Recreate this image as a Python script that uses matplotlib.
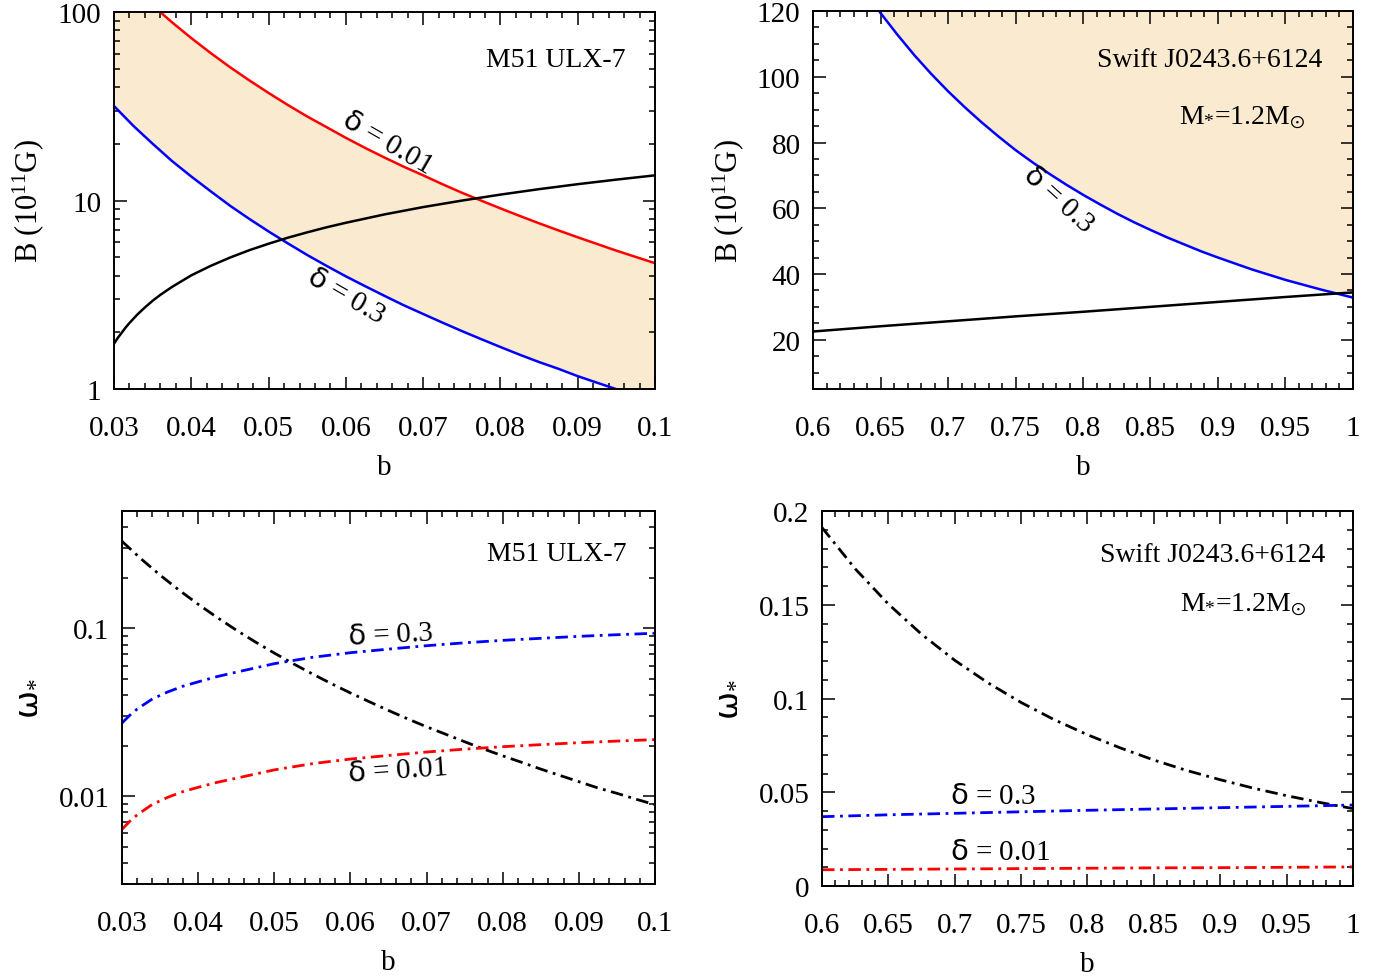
import numpy as np
import matplotlib
matplotlib.use('Agg')
import matplotlib.pyplot as plt
from matplotlib.ticker import MultipleLocator, FuncFormatter, LogLocator

plt.rcParams['font.family'] = ['Liberation Serif', 'DejaVu Serif']
plt.rcParams['mathtext.fontset'] = 'custom'
plt.rcParams['mathtext.rm'] = 'Liberation Serif'
plt.rcParams['mathtext.it'] = 'Liberation Serif:italic'
plt.rcParams['mathtext.bf'] = 'Liberation Serif:bold'
plt.rcParams['mathtext.sf'] = 'DejaVu Sans'
plt.rcParams['mathtext.fallback'] = 'stix'
plt.rcParams['font.size'] = 20

# ---- M51 ULX-7, B vs b (top left) ----
b_ulx = [0.0300, 0.0305, 0.0310, 0.0315, 0.0320, 0.0330, 0.0340, 0.0350, 0.0360,
         0.0375, 0.0400, 0.0425, 0.0450, 0.0475, 0.0500, 0.0525, 0.0550, 0.0575,
         0.060, 0.065, 0.070, 0.075, 0.080, 0.085, 0.090, 0.095, 0.100]
B_ulx_black = [1.74, 1.87, 1.99, 2.12, 2.24, 2.48, 2.71, 2.94, 3.16,
               3.48, 4.01, 4.50, 4.98, 5.45, 5.90, 6.35, 6.78, 7.21,
               7.62, 8.44, 9.23, 9.99, 10.75, 11.49, 12.21, 12.91, 13.6]
b_ulx_d = [0.0300, 0.0325, 0.0350, 0.0375, 0.0400, 0.0425, 0.0450, 0.0475, 0.0500,
           0.0525, 0.0550, 0.0575, 0.0600, 0.0625, 0.0650, 0.0675, 0.0700, 0.0725,
           0.0750, 0.0775, 0.0800, 0.0825, 0.0850, 0.0875, 0.0900, 0.0925, 0.0950,
           0.0975, 0.1000]
B_ulx_d001 = [172.2, 135.5, 108.4, 88.2, 72.7, 60.6, 51.0, 43.4, 37.2,
              32.1, 27.9, 24.5, 21.5, 19.0, 16.9, 15.1, 13.6, 12.2,
              11.0, 9.99, 9.08, 8.28, 7.57, 6.94, 6.38, 5.88, 5.42,
              5.02, 4.65]
B_ulx_d03 = [31.7, 24.9, 20.0, 16.2, 13.4, 11.2, 9.39, 7.99, 6.85,
             5.92, 5.14, 4.50, 3.96, 3.51, 3.12, 2.78, 2.50, 2.25,
             2.03, 1.84, 1.67, 1.52, 1.39, 1.28, 1.17, 1.08, 0.998,
             0.924, 0.856]

# ---- Swift J0243.6+6124, B vs b (top right) ----
b_sw = [0.6000, 0.6125, 0.6250, 0.6375, 0.6500, 0.6625, 0.6750, 0.6875, 0.7000,
        0.7125, 0.7250, 0.7375, 0.7500, 0.7625, 0.7750, 0.7875, 0.8000, 0.8125,
        0.8250, 0.8375, 0.8500, 0.8625, 0.8750, 0.8875, 0.9000, 0.9125, 0.9250,
        0.9375, 0.9500, 0.9625, 0.9750, 0.9875, 1.0000]
B_sw_d03 = [151.9, 142.7, 134.4, 126.6, 119.4, 112.8, 106.6, 100.9, 95.6,
            90.7, 86.1, 81.8, 77.7, 74.0, 70.5, 67.2, 64.1, 61.2,
            58.4, 55.8, 53.4, 51.1, 49.0, 46.9, 45.0, 43.2, 41.4,
            39.8, 38.2, 36.8, 35.4, 34.1, 32.8]
b_sw_line = [0.60, 0.65, 0.70, 0.75, 0.80, 0.85, 0.90, 0.95, 1.00]
B_sw_black = [22.5, 24.1, 25.6, 27.1, 28.5, 30.0, 31.5, 33.0, 34.4]

# ---- M51 ULX-7, omega vs b (bottom left) ----
b_w_ulx = [0.030, 0.031, 0.032, 0.034, 0.036, 0.038, 0.040, 0.0425, 0.045, 0.050, 0.055,
           0.060, 0.065, 0.070, 0.075, 0.080, 0.085, 0.090, 0.095, 0.100]
w_ulx_d03 = [0.0273, 0.0303, 0.0331, 0.0380, 0.0418, 0.0452, 0.0480, 0.0516, 0.0548, 0.0616, 0.0672,
             0.0716, 0.0752, 0.0788, 0.0820, 0.0848, 0.0872, 0.0896, 0.0916, 0.0935]
w_ulx_d001 = [0.00635, 0.00708, 0.00775, 0.00895, 0.00985, 0.01065, 0.01130, 0.01210, 0.01280, 0.01435, 0.01563,
              0.01665, 0.01749, 0.01833, 0.01907, 0.01972, 0.02028, 0.02084, 0.02130, 0.02174]
b_w_ulx_k = [0.0300, 0.0325, 0.0350, 0.0375, 0.0400, 0.0425, 0.0450, 0.0475, 0.0500,
             0.0525, 0.0550, 0.0575, 0.0600, 0.0625, 0.0650, 0.0675, 0.0700, 0.0725,
             0.0750, 0.0775, 0.0800, 0.0825, 0.0850, 0.0875, 0.0900, 0.0925, 0.0950,
             0.0975, 0.1000]
w_ulx_black = [0.3297, 0.2593, 0.2075, 0.1687, 0.1391, 0.1160, 0.0976, 0.0830, 0.0712,
               0.0615, 0.0535, 0.0468, 0.0412, 0.0365, 0.0324, 0.0289, 0.0259, 0.0234,
               0.0211, 0.0191, 0.0174, 0.0159, 0.0145, 0.0133, 0.0122, 0.0112, 0.0104,
               0.0096, 0.0089]

# ---- Swift J0243.6+6124, omega vs b (bottom right) ----
b_w_sw = [0.600, 0.625, 0.650, 0.675, 0.700, 0.725, 0.750, 0.775, 0.800,
          0.825, 0.850, 0.875, 0.900, 0.925, 0.950, 0.975, 1.000]
w_sw_black = [0.1912, 0.1692, 0.1504, 0.1343, 0.1204, 0.1084, 0.0979, 0.0887, 0.0807,
              0.0736, 0.0672, 0.0616, 0.0567, 0.0522, 0.0482, 0.0446, 0.0413]
b_w_sw_line = [0.60, 0.65, 0.70, 0.75, 0.80, 0.85, 0.90, 0.95, 1.00]
w_sw_d03 = [0.0370, 0.0380, 0.0388, 0.0396, 0.0404, 0.0411, 0.0418, 0.0425, 0.0432]
w_sw_d001 = [0.0087, 0.0089, 0.0091, 0.0093, 0.0095, 0.0097, 0.0098, 0.0100, 0.0102]

shade = '#FAEAD0'
dashdot = (0, (4.5, 2, 1, 2))
gfmt = FuncFormatter(lambda v, p: '%g' % v)
dlt = r'$\mathsf{\delta}$'


def style(ax, xmaj, xmin):
    ax.xaxis.set_major_locator(MultipleLocator(xmaj))
    ax.xaxis.set_minor_locator(MultipleLocator(xmin))
    ax.xaxis.set_major_formatter(gfmt)
    ax.yaxis.set_major_formatter(gfmt)
    ax.tick_params(which='both', direction='in', top=True, right=True, width=1.1)
    ax.tick_params(which='major', length=9)
    ax.tick_params(which='minor', length=4.5)
    ax.tick_params(axis='x', pad=19, labelsize=21)
    ax.tick_params(axis='y', pad=9, labelsize=21)
    for s in ax.spines.values():
        s.set_linewidth(1.4)


fig = plt.figure(figsize=(13.82, 9.78), dpi=100)
ax1 = fig.add_axes([0.0825, 0.6012, 0.3915, 0.3855])
ax2 = fig.add_axes([0.5883, 0.6012, 0.3907, 0.3865])
ax3 = fig.add_axes([0.0883, 0.0951, 0.3857, 0.3814])
ax4 = fig.add_axes([0.5948, 0.0930, 0.3842, 0.3834])

# top left
ax1.set_yscale('log')
ax1.fill_between(b_ulx_d, B_ulx_d03, B_ulx_d001, color=shade, lw=0)
ax1.plot(b_ulx_d, B_ulx_d001, color='red', lw=1.8)
ax1.plot(b_ulx_d, B_ulx_d03, color='blue', lw=1.8)
ax1.plot(b_ulx, B_ulx_black, color='black', lw=1.8)
ax1.set_xlim(0.03, 0.1)
ax1.set_ylim(1, 100)
style(ax1, 0.01, 0.002)
ax1.yaxis.set_minor_locator(LogLocator(subs=np.arange(2, 10)))
ax1.yaxis.set_minor_formatter(FuncFormatter(lambda v, p: ''))
ax1.text(0.945, 0.875, 'M51 ULX-7', transform=ax1.transAxes, ha='right', va='center')
ax1.text(0.505, 0.655, dlt + ' = $\\it{0.01}$', transform=ax1.transAxes, ha='center',
         va='center', rotation=-30, fontsize=21)
ax1.text(0.429, 0.247, dlt + ' = $\\it{0.3}$', transform=ax1.transAxes, ha='center',
         va='center', rotation=-30, fontsize=21)
ax1.set_xlabel('b', fontsize=21)
ax1.set_ylabel('B (10$^{11}$G)', fontsize=22)

# top right
ax2.fill_between(b_sw, B_sw_d03, 120, color=shade, lw=0)
ax2.plot(b_sw, B_sw_d03, color='blue', lw=1.8)
ax2.plot(b_sw_line, B_sw_black, color='black', lw=1.8)
ax2.set_xlim(0.6, 1.0)
ax2.set_ylim(5, 120)
style(ax2, 0.05, 0.01)
ax2.yaxis.set_major_locator(MultipleLocator(20))
ax2.yaxis.set_minor_locator(MultipleLocator(5))
ax2.text(0.943, 0.873, 'Swift J0243.6+6124', transform=ax2.transAxes, ha='right', va='center')
ax2.text(0.911, 0.72, 'M$_{*}$=1.2M$_{\\odot}$', transform=ax2.transAxes, ha='right', va='center')
ax2.text(0.454, 0.503, dlt + ' = $\\it{0.3}$', transform=ax2.transAxes, ha='center',
         va='center', rotation=-42, fontsize=21)
ax2.set_xlabel('b', fontsize=21)
ax2.set_ylabel('B (10$^{11}$G)', fontsize=22)

# bottom left
ax3.set_yscale('log')
ax3.plot(b_w_ulx_k, w_ulx_black, color='black', lw=2.0, ls=dashdot)
ax3.plot(b_w_ulx, w_ulx_d03, color='blue', lw=2.0, ls=dashdot)
ax3.plot(b_w_ulx, w_ulx_d001, color='red', lw=2.0, ls=dashdot)
ax3.set_xlim(0.03, 0.1)
ax3.set_ylim(0.003, 0.5)
style(ax3, 0.01, 0.002)
ax3.yaxis.set_minor_locator(LogLocator(subs=np.arange(2, 10)))
ax3.yaxis.set_minor_formatter(FuncFormatter(lambda v, p: ''))
ax3.text(0.947, 0.885, 'M51 ULX-7', transform=ax3.transAxes, ha='right', va='center')
ax3.text(0.503, 0.668, dlt + ' = 0.3', transform=ax3.transAxes, ha='center', va='center',
         rotation=3, fontsize=21)
ax3.text(0.516, 0.303, dlt + ' = 0.01', transform=ax3.transAxes, ha='center', va='center',
         rotation=4, fontsize=21)
ax3.set_xlabel('b', fontsize=21)
ax3.set_ylabel(r'$\mathsf{\omega}_{*}$', fontsize=24)

# bottom right
ax4.plot(b_w_sw, w_sw_black, color='black', lw=2.0, ls=dashdot)
ax4.plot(b_w_sw_line, w_sw_d03, color='blue', lw=2.0, ls=dashdot)
ax4.plot(b_w_sw_line, w_sw_d001, color='red', lw=2.0, ls=dashdot)
ax4.set_xlim(0.6, 1.0)
ax4.set_ylim(0, 0.2)
style(ax4, 0.05, 0.01)
ax4.yaxis.set_major_locator(MultipleLocator(0.05))
ax4.yaxis.set_minor_locator(MultipleLocator(0.01))
ax4.text(0.947, 0.885, 'Swift J0243.6+6124', transform=ax4.transAxes, ha='right', va='center')
ax4.text(0.913, 0.752, 'M$_{*}$=1.2M$_{\\odot}$', transform=ax4.transAxes, ha='right', va='center')
ax4.text(0.322, 0.24, dlt + ' = 0.3', transform=ax4.transAxes, ha='center', va='center', fontsize=21)
ax4.text(0.335, 0.091, dlt + ' = 0.01', transform=ax4.transAxes, ha='center', va='center', fontsize=21)
ax4.set_xlabel('b', fontsize=21)
ax4.set_ylabel(r'$\mathsf{\omega}_{*}$', fontsize=24)

for ax in (ax1, ax2):
    ax.yaxis.set_label_coords(-0.125, 0.5)
    ax.xaxis.set_label_coords(0.5, -0.172)
for ax in (ax3, ax4):
    ax.yaxis.set_label_coords(-0.150, 0.5)
    ax.xaxis.set_label_coords(0.5, -0.174)

fig.savefig('out.png', dpi=100)
